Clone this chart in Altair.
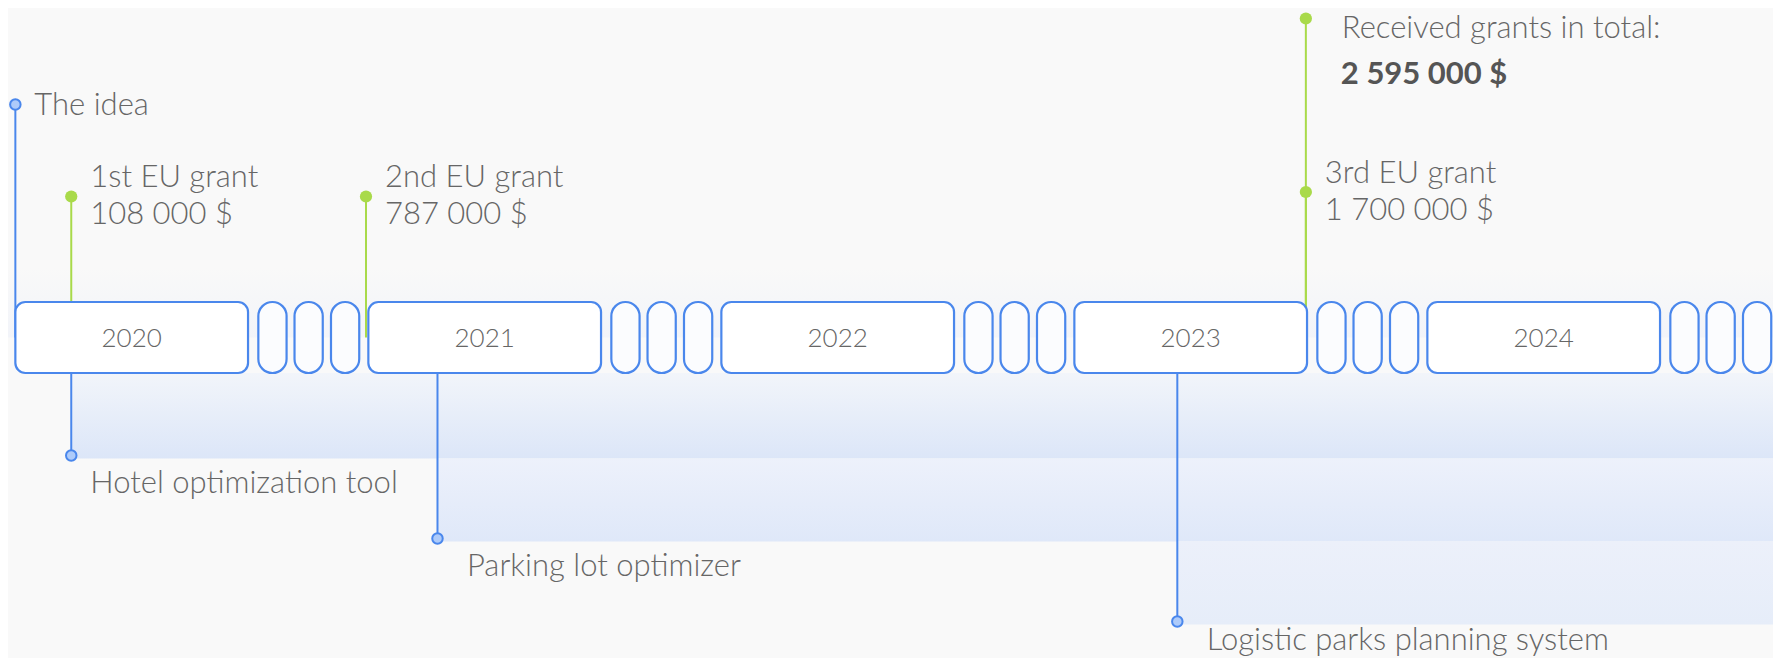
import altair as alt
import pandas as pd

# ---------------- data ----------------
years = [2020, 2021, 2022, 2023, 2024]

event_labels = ["The idea", "1st EU grant", "2nd EU grant", "3rd EU grant",
                "Received grants in total:", "Hotel optimization tool",
                "Parking lot optimizer", "Logistic parks planning system"]
event_values = ["", "108 000 $", "787 000 $", "1 700 000 $", "2 595 000 $", "", "", ""]
event_kinds = ["project", "grant", "grant", "grant", "total", "project", "project", "project"]
event_month = [0.0, 1.9, 11.92, 43.87, 43.87, 1.9, 14.35, 39.5]   # months since Jan 2020
event_level = [233, 141, 141, 145.5, 319, -118, -201, -284]       # stem height

# ---------------- layout ----------------
PX_PER_UNIT = 1765 / 60.0
X_DOM = [-0.25, 59.75]
Y_DOM = [-320.5, 329.5]
BOX_W = 7.91
PILL_OFFSETS = [8.26, 9.49, 10.73]
PILL_W = 0.96
HALF_H = 35.5
END = 59.75
BLUE = "#4a87ec"
GREEN = "#a9da4a"
TEXT = "#666666"
FONT = "Lato"
FS = 31
TOP_LIMIT = Y_DOM[1] - 21
BOTTOM_LIMIT = Y_DOM[0] + 17

xs = alt.Scale(domain=X_DOM, nice=False, zero=False)
ys = alt.Scale(domain=Y_DOM, nice=False, zero=False)

def X(f):
    return alt.X(f, type="quantitative", scale=xs, axis=None)

def Y(f):
    return alt.Y(f, type="quantitative", scale=ys, axis=None)

# timeline segments
boxes, pills = [], []
for i, yr in enumerate(years):
    s = i * 12
    boxes.append({"year": str(yr), "x": s, "x2": s + BOX_W, "xm": s + BOX_W / 2,
                  "y": HALF_H, "y2": -HALF_H, "ym": -1})
    for o in PILL_OFFSETS:
        pills.append({"x": s + o, "x2": s + o + PILL_W, "y": HALF_H, "y2": -HALF_H})
boxes = pd.DataFrame(boxes)
pills = pd.DataFrame(pills)

events = pd.DataFrame({"label": event_labels, "value": event_values, "kind": event_kinds,
                       "month": event_month, "level": event_level})
events["zero"] = 0.0
events["color"] = events["kind"].map(lambda k: "project" if k == "project" else "grant")

# bands below the timeline (one per lower milestone)
below = events[events["level"] < 0].sort_values("level", ascending=False)
bands = []
prev = -HALF_H
for _, r in below.iterrows():
    bands.append({"x": r["month"], "x2": END, "y": prev, "y2": r["level"] - 3})
    prev = r["level"] - 3
bands = pd.DataFrame(bands)

# label rows
rows = []
for _, r in events.iterrows():
    if r["kind"] == "project" and r["level"] > 0:
        rows.append({"t": r["label"], "x": r["month"] + 19 / PX_PER_UNIT, "y": r["level"] - 1, "w": "n"})
    elif r["kind"] == "grant":
        rows.append({"t": r["label"], "x": r["month"] + 19 / PX_PER_UNIT, "y": r["level"] + 18.5, "w": "n"})
        rows.append({"t": r["value"], "x": r["month"] + 19 / PX_PER_UNIT, "y": r["level"] - 18.5, "w": "n"})
    elif r["kind"] == "total":
        y1 = min(r["level"] - 1, TOP_LIMIT)
        rows.append({"t": r["label"], "x": r["month"] + 36 / PX_PER_UNIT, "y": y1, "w": "n"})
        rows.append({"t": r["value"], "x": r["month"] + 35 / PX_PER_UNIT, "y": y1 - 46, "w": "b"})
    else:
        dx = 19 if r["month"] < 5 else 29.5
        rows.append({"t": r["label"], "x": r["month"] + dx / PX_PER_UNIT,
                     "y": max(r["level"] - 28, BOTTOM_LIMIT), "w": "n"})
labels = pd.DataFrame(rows)

# ---------------- marks ----------------
def grad(top, bottom):
    return alt.LinearGradient(gradient="linear", x1=0, y1=0, x2=0, y2=1,
                              stops=[alt.GradientStop(color=top, offset=0),
                                     alt.GradientStop(color=bottom, offset=1)])

glow = alt.Chart(pd.DataFrame({"x": [X_DOM[0]], "x2": [END], "y": [70], "y2": [0]})).mark_rect(
    color=grad("#f9f9f9", "#f2f4f9")).encode(x=X("x"), x2="x2", y=Y("y"), y2="y2")

band_colors = [("#f2f5fa", "#dce6f8"), ("#edf1fb", "#dfe8f9"), ("#ecf0fa", "#e6edf9")]
band_layers = []
for i in range(len(bands)):
    band_layers.append(
        alt.Chart(bands.iloc[[i]]).mark_rect(color=grad(*band_colors[i])).encode(
            x=X("x"), x2="x2", y=Y("y"), y2="y2"))

stems = alt.Chart(events).mark_rule(strokeWidth=2).encode(
    x=X("month"), y=Y("level"), y2="zero",
    color=alt.Color("color:N", scale=alt.Scale(domain=["project", "grant"], range=[BLUE, GREEN]),
                    legend=None))

box_marks = alt.Chart(boxes).mark_rect(fill="white", stroke=BLUE, strokeWidth=2.2,
                                       cornerRadius=10).encode(
    x=X("x"), x2="x2", y=Y("y"), y2="y2")

pill_marks = alt.Chart(pills).mark_rect(fill="#fbfcfe", stroke=BLUE, strokeWidth=2.2,
                                        cornerRadius=14).encode(
    x=X("x"), x2="x2", y=Y("y"), y2="y2")

year_text = alt.Chart(boxes).mark_text(font=FONT, fontWeight=300, fontSize=26, color=TEXT,
                                       baseline="middle", align="center").encode(
    x=X("xm"), y=Y("ym"), text="year:N")

blue_dots = alt.Chart(events[events["kind"] == "project"]).mark_point(
    shape="circle", filled=True, fill="#aecbfa", stroke=BLUE, strokeWidth=2, size=110,
    opacity=1).encode(x=X("month"), y=Y("level"))

green_dots = alt.Chart(events[events["kind"] != "project"]).mark_point(
    shape="circle", filled=True, color=GREEN, size=150, opacity=1).encode(
    x=X("month"), y=Y("level"))

normal_text = alt.Chart(labels[labels["w"] == "n"]).mark_text(
    font=FONT, fontWeight=300, fontSize=FS, color=TEXT, align="left", baseline="middle").encode(
    x=X("x"), y=Y("y"), text="t:N")

bold_text = alt.Chart(labels[labels["w"] == "b"]).mark_text(
    font=FONT, fontWeight="bold", fontSize=FS, color="#555555", align="left",
    baseline="middle").encode(x=X("x"), y=Y("y"), text="t:N")

chart = alt.layer(glow, *band_layers, stems, box_marks, pill_marks, year_text,
                  blue_dots, green_dots, normal_text, bold_text).properties(
    width=1765, height=650, padding=0,
    autosize=alt.AutoSizeParams(type="none"),
    background="#f9f9f9").configure_view(stroke=None)

chart.save("out.html", embed_options={"renderer": "svg", "actions": False})
